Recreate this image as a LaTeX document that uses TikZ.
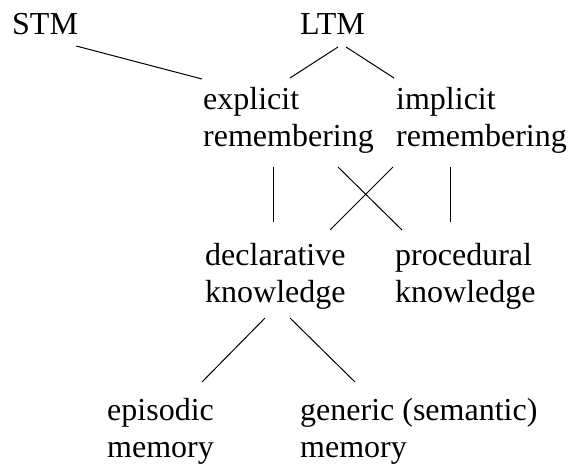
\documentclass[tikz,border=0pt]{standalone}
\usepackage{fontspec}
\setmainfont{Liberation Serif}

\begin{document}
\begin{tikzpicture}[x=1pt, y=-1pt,
		term/.style={inner sep=0pt, anchor=base west, align=left,
			font=\fontsize{32pt}{37pt}\selectfont},
		link/.style={line width=1pt}]
		
		\useasboundingbox (0,0) rectangle (570,465);
		
		% stores
		\node[term] (stm) at (12,35) {STM};
		\node[term] (ltm) at (300,35) {LTM};
		
		% remembering
		\node[term] (expl) at (203,147) {explicit\\remembering};
		\node[term] (impl) at (396,147) {implicit\\remembering};
		
		% knowledge
		\node[term] (decl) at (205,302) {declarative\\knowledge};
		\node[term] (proc) at (395,302) {procedural\\knowledge};
		
		% memory
		\node[term] (epis) at (107,457) {episodic\\memory};
		\node[term] (gen) at (300,457) {generic (semantic)\\memory};
		
		% links
		\draw[link] ([shift={(-2,11)}]stm.base east) -- ([shift={(-1,-68)}]expl.base west);
		\draw[link] ([shift={(38,12)}]ltm.base west) -- ([shift={(87,-69)}]expl.base west);
		\draw[link] ([shift={(46,12)}]ltm.base west) -- ([shift={(-2,-69)}]impl.base west);
		\draw[link] ([shift={(70,20)}]expl.base west) -- ([shift={(68,-80)}]decl.base west);
		\draw[link] ([shift={(135,20)}]expl.base west) -- ([shift={(7,-72)}]proc.base west);
		\draw[link] ([shift={(-3,20)}]impl.base west) -- ([shift={(125,-72)}]decl.base west);
		\draw[link] ([shift={(54,20)}]impl.base west) -- ([shift={(55,-80)}]proc.base west);
		\draw[link] ([shift={(60,16)}]decl.base west) -- ([shift={(95,-75)}]epis.base west);
		\draw[link] ([shift={(85,16)}]decl.base west) -- ([shift={(55,-75)}]gen.base west);
		
	\end{tikzpicture}
\end{document}
